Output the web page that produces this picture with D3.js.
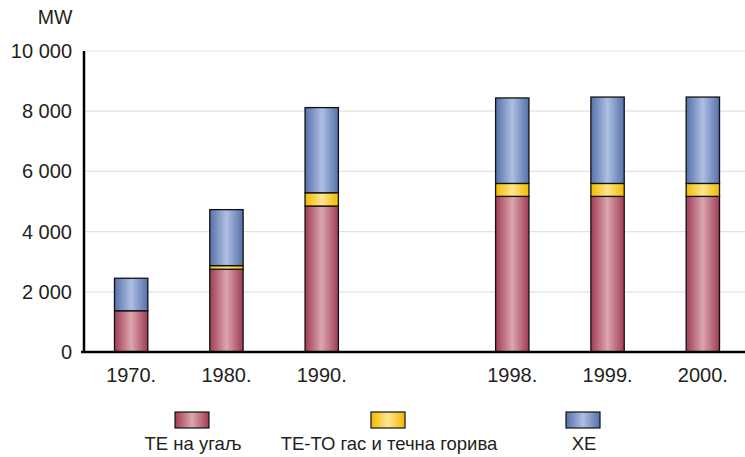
<!DOCTYPE html>
<html>
<head>
<meta charset="utf-8">
<script src="https://cdn.jsdelivr.net/npm/d3@7"></script>
<style>
  body { margin: 0; background: #fff; }
  text { font-family: "Liberation Sans", Arial, sans-serif; fill: #231f20; }
</style>
</head>
<body>
<svg id="chart" width="745" height="457"></svg>
<script>
"use strict";

// categories ("" is the empty slot between 1990 and 1998)
var years = ["1970.", "1980.", "1990.", "", "1998.", "1999.", "2000."];
var coal  = [1370, 2750, 4850, null, 5170, 5170, 5170];
var gas   = [0,     120,  440, null,  430,  430,  430];
var hydro = [1080, 1860, 2830, null, 2840, 2870, 2870];
var yTicks = [0, 2000, 4000, 6000, 8000, 10000];
var seriesNames = ["ТЕ на угаљ", "ТЕ-ТО гас и течна горива", "ХЕ"];

var svg = d3.select("#chart");
var margin = { left: 84, top: 51, right: 0, bottom: 105 };
var width = 745 - margin.left;
var height = 457 - margin.top - margin.bottom;

var x = d3.scaleBand().domain(years).range([0, 666]).paddingInner(0.65).paddingOuter(0.32);
var y = d3.scaleLinear().domain([0, 10000]).range([height, 0]);

// gradients
var defs = svg.append("defs");
var grads = [
  { id: "gCoal",  edge: "#a03c54", mid: "#dba6ad" },
  { id: "gGas",   edge: "#f2b900", mid: "#fde78e" },
  { id: "gHydro", edge: "#5670aa", mid: "#aebfe2" }
];
grads.forEach(function(g) {
  var lg = defs.append("linearGradient").attr("id", g.id)
    .attr("x1", "0%").attr("x2", "100%").attr("y1", "0%").attr("y2", "0%");
  lg.append("stop").attr("offset", "0%").attr("stop-color", g.edge);
  lg.append("stop").attr("offset", "50%").attr("stop-color", g.mid);
  lg.append("stop").attr("offset", "100%").attr("stop-color", g.edge);
});

var g = svg.append("g").attr("transform", "translate(" + margin.left + "," + margin.top + ")");

// gridlines
g.selectAll(".grid").data(yTicks.slice(1)).enter().append("line")
  .attr("x1", 0).attr("x2", width)
  .attr("y1", function(d) { return y(d); }).attr("y2", function(d) { return y(d); })
  .attr("stroke", "#e2e2e2").attr("stroke-width", 1.2);

// y tick labels
g.selectAll(".ylab").data(yTicks).enter().append("text")
  .attr("x", -12).attr("y", function(d) { return y(d) + 7; })
  .attr("text-anchor", "end").style("font-size", "20px")
  .text(function(d) { return d3.format(",")(d).replace(/,/g, " "); });

svg.append("text").attr("x", 55).attr("y", 24).attr("text-anchor", "middle")
  .style("font-size", "19.5px").text("MW");

// stacked bars
var rows = years.map(function(yr, i) {
  return { year: yr, coal: coal[i], gas: gas[i], hydro: hydro[i] };
}).filter(function(d) { return d.year !== ""; });

var stack = d3.stack().keys(["coal", "gas", "hydro"]);
var layers = stack(rows);
var fills = ["url(#gCoal)", "url(#gGas)", "url(#gHydro)"];

layers.forEach(function(layer, li) {
  g.selectAll(".bar" + li).data(layer.filter(function(d) { return d[1] - d[0] > 0; }))
    .enter().append("rect")
    .attr("x", function(d) { return x(d.data.year); })
    .attr("y", function(d) { return y(d[1]); })
    .attr("width", x.bandwidth())
    .attr("height", function(d) { return y(d[0]) - y(d[1]); })
    .attr("fill", fills[li])
    .attr("stroke", "#111").attr("stroke-width", 1.3);
});

// axes lines
g.append("line").attr("x1", 0).attr("x2", 0).attr("y1", 0).attr("y2", height)
  .attr("stroke", "#000").attr("stroke-width", 2.5);
g.append("line").attr("x1", -3).attr("x2", width).attr("y1", height).attr("y2", height)
  .attr("stroke", "#000").attr("stroke-width", 2.5);

// x labels
g.selectAll(".xlab").data(years.filter(function(d) { return d !== ""; })).enter().append("text")
  .attr("x", function(d) { return x(d) + x.bandwidth() / 2; })
  .attr("y", height + 30)
  .attr("text-anchor", "middle").style("font-size", "20px")
  .text(function(d) { return d; });

// legend
var legendX = [192, 388, 583];
var lg = svg.append("g");
seriesNames.forEach(function(name, i) {
  lg.append("rect").attr("x", legendX[i] - 17).attr("y", 412)
    .attr("width", 34).attr("height", 16)
    .attr("fill", fills[i]).attr("stroke", "#111").attr("stroke-width", 1.2);
  lg.append("text").attr("x", legendX[i] + 1).attr("y", 450)
    .attr("text-anchor", "middle").style("font-size", "18.5px").text(name);
});
</script>
</body>
</html>
